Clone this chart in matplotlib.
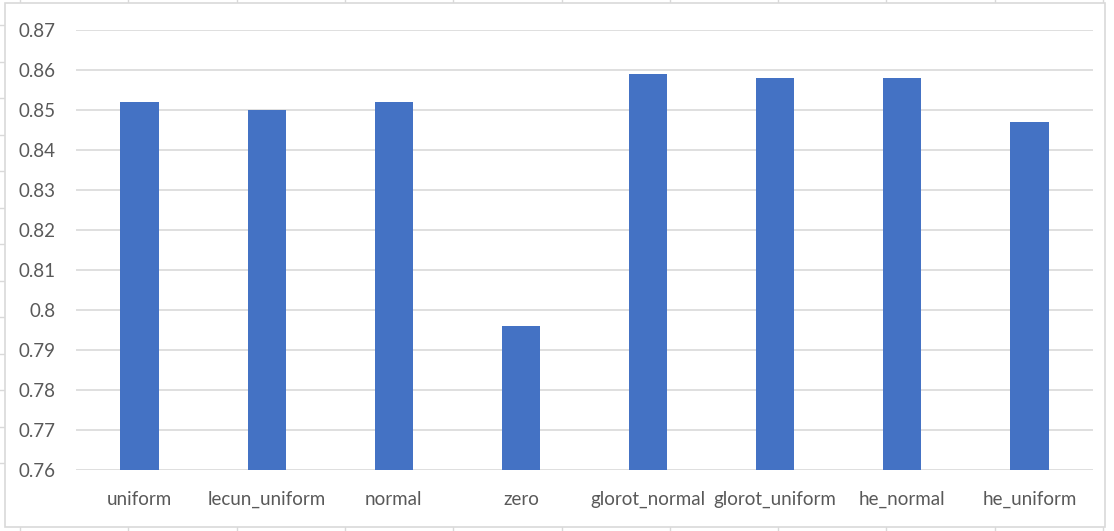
import numpy as np
import matplotlib
matplotlib.use("Agg")
import matplotlib.pyplot as plt
from matplotlib.patches import Rectangle
from matplotlib.lines import Line2D

# ======= 数据 =======
initializers = ["uniform", "lecun_uniform", "normal", "zero",
                "glorot_normal", "glorot_uniform", "he_normal", "he_uniform"]
accuracy = [0.852, 0.850, 0.852, 0.796, 0.859, 0.858, 0.858, 0.847]
y_ticks = [0.76, 0.77, 0.78, 0.79, 0.8, 0.81, 0.82, 0.83, 0.84, 0.85, 0.86, 0.87]

BAR_COLOR = "#4472C4"
GRID_COLOR = "#d9d9d9"
TEXT_COLOR = "#595959"

plt.rcParams["font.family"] = ["Lato", "DejaVu Sans"]

W, H = 1114, 531
fig = plt.figure(figsize=(W / 100, H / 100), dpi=100)

# 表格背景里露出来的单元格线
for x in np.arange(20, W, 108.3):
    fig.add_artist(Line2D([x / W, x / W], [1 - 3 / H, 1], color=GRID_COLOR, lw=1, zorder=-20))
    fig.add_artist(Line2D([x / W, x / W], [0, 4 / H], color=GRID_COLOR, lw=1, zorder=-20))
for y in np.arange(463, 0, -36.5):
    fig.add_artist(Line2D([0, 5 / W], [1 - y / H, 1 - y / H], color=GRID_COLOR, lw=1, zorder=-20))

# 图表外框
fig.add_artist(Rectangle((5 / W, 4 / H), 1100 / W, (H - 7) / H,
                         transform=fig.transFigure, fill=True, facecolor="white",
                         edgecolor=GRID_COLOR, lw=1.2, zorder=-10))

ax = fig.add_axes([76 / W, 61 / H, 1017 / W, 440 / H])
x = np.arange(len(initializers))
ax.bar(x, [v - 0.76 for v in accuracy], bottom=0.76, width=0.3,
       color=BAR_COLOR, zorder=3)

ax.set_xlim(-0.5, len(initializers) - 0.5)
ax.set_ylim(0.76, 0.87)
ax.set_yticks(y_ticks)
ax.set_yticklabels([f"{t:g}" for t in y_ticks])
ax.set_xticks(x)
ax.set_xticklabels(initializers)
ax.yaxis.grid(True, color=GRID_COLOR, lw=1.2, zorder=0)
ax.set_axisbelow(True)
ax.tick_params(axis="both", length=0, labelsize=13.5, labelcolor=TEXT_COLOR)
ax.tick_params(axis="x", pad=15)
ax.tick_params(axis="y", pad=15)
for s in ax.spines.values():
    s.set_visible(False)
ax.set_facecolor("none")

fig.savefig("out.png", dpi=100)
